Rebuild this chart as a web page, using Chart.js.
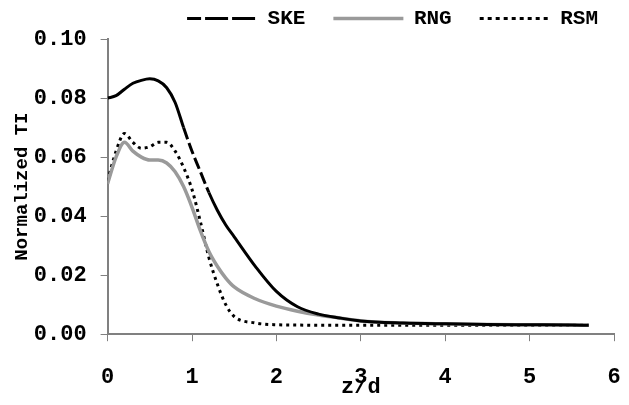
<!DOCTYPE html>
<html>
<head>
<meta charset="utf-8">
<script src="https://cdn.jsdelivr.net/npm/chart.js@4.4.1/dist/chart.umd.min.js"></script>
<style>
  html, body { margin: 0; padding: 0; background: #ffffff; }
  #wrap { width: 629px; height: 405px; }
</style>
</head>
<body>
<div id="wrap"><canvas id="tiChart"></canvas></div>
<script>
// Data (z/d vs normalized TI)
const zd = [0, 0.1, 0.2, 0.3, 0.4, 0.5, 0.6, 0.7, 0.8, 0.9, 1.0, 1.1, 1.2, 1.3, 1.4, 1.5, 1.75, 2.0, 2.25, 2.5, 2.75, 3.0, 3.5, 4.0, 4.5, 5.0, 5.5, 5.7];
const skeValues = [0.080, 0.0808, 0.083, 0.085, 0.086, 0.0865, 0.0858, 0.0835, 0.0785, 0.070, 0.062, 0.055, 0.048, 0.042, 0.037, 0.033, 0.023, 0.0145, 0.0093, 0.0068, 0.0055, 0.0045, 0.0038, 0.0035, 0.0033, 0.0032, 0.0031, 0.0030];
const rngValues = [0.051, 0.060, 0.065, 0.062, 0.060, 0.059, 0.059, 0.058, 0.055, 0.050, 0.043, 0.035, 0.028, 0.023, 0.019, 0.016, 0.012, 0.0095, 0.0078, 0.0065, 0.0055, 0.0045, 0.0038, 0.0035, 0.0033, 0.0032, 0.0031, 0.0030];
const rsmValues = [0.052, 0.062, 0.068, 0.065, 0.063, 0.0635, 0.065, 0.065, 0.062, 0.0565, 0.049, 0.038, 0.026, 0.017, 0.010, 0.006, 0.0038, 0.0032, 0.0031, 0.0030, 0.0030, 0.0030, 0.0030, 0.0030, 0.0030, 0.0030, 0.0030, 0.0030];
const seriesNames = ['SKE', 'RNG', 'RSM'];
const yTicks = [0, 0.02, 0.04, 0.06, 0.08, 0.10];

// Colors
const blackColor = '#000000',
  greyLineColor = '#9a9a9a',
  axisColor = '#808080';

const monoFont = 'Liberation Mono, Courier New, monospace';

function toPoints(values) {
  return zd.map(function (z, i) {
    return { x: z, y: values[i] };
  });
}

const tiChart = new Chart(document.getElementById('tiChart'), {
  type: 'line',
  data: {
    datasets: [
      {
        label: seriesNames[0],
        data: toPoints(skeValues),
        borderColor: blackColor,
        borderWidth: 3,
        pointRadius: 0,
        cubicInterpolationMode: 'monotone',
        // the long dash-dot only shows as broken on the steep part
        segment: {
          borderDash: function (ctx) {
            const x = ctx.p0.parsed.x;
            return x >= 0.85 && x < 1.15 ? [12, 4] : undefined;
          }
        }
      },
      {
        label: seriesNames[1],
        data: toPoints(rngValues),
        borderColor: greyLineColor,
        borderWidth: 3.5,
        pointRadius: 0,
        cubicInterpolationMode: 'monotone'
      },
      {
        label: seriesNames[2],
        data: toPoints(rsmValues),
        borderColor: blackColor,
        borderWidth: 3,
        borderDash: [3, 4],
        pointRadius: 0,
        cubicInterpolationMode: 'monotone'
      }
    ]
  },
  options: {
    responsive: true,
    maintainAspectRatio: false,
    animation: false,
    layout: {
      padding: { left: 11, right: 3, top: -20, bottom: -3 }
    },
    plugins: {
      tooltip: { enabled: false },
      legend: {
        position: 'top',
        align: 'end',
        labels: {
          color: blackColor,
          boxWidth: 70,
          boxHeight: 0,
          padding: 28,
          font: { family: monoFont, size: 21, weight: 'bold' },
          generateLabels: function (chart) {
            const dashes = [[14, 5, 3, 5], [], [3, 5]];
            return chart.data.datasets.map(function (ds, i) {
              return {
                text: ds.label,
                fillStyle: ds.borderColor,
                strokeStyle: ds.borderColor,
                lineWidth: ds.borderWidth,
                lineDash: dashes[i],
                fontColor: blackColor,
                datasetIndex: i
              };
            });
          }
        }
      }
    },
    scales: {
      x: {
        type: 'linear',
        min: 0,
        max: 6,
        // keep the plot close to the right edge despite the tick padding
        afterFit: function (scale) {
          scale.paddingRight = 15;
        },
        grid: {
          display: true,
          drawOnChartArea: false,
          drawTicks: true,
          tickLength: 7,
          color: axisColor
        },
        border: { display: true, color: axisColor, width: 2 },
        ticks: {
          stepSize: 1,
          padding: 23,
          color: blackColor,
          font: { family: monoFont, size: 22, weight: 'bold' }
        },
        title: {
          display: true,
          text: 'z/d',
          color: blackColor,
          padding: { top: -39, bottom: 7 },
          font: { family: monoFont, size: 22, weight: 'bold' }
        }
      },
      y: {
        min: 0,
        max: 0.1,
        afterBuildTicks: function (axis) {
          axis.ticks = yTicks.map(function (v) { return { value: v }; });
        },
        grid: {
          display: true,
          drawOnChartArea: false,
          drawTicks: true,
          tickLength: 7,
          color: axisColor
        },
        border: { display: true, color: axisColor, width: 2 },
        ticks: {
          padding: 14,
          color: blackColor,
          font: { family: monoFont, size: 22, weight: 'bold' },
          callback: function (value) {
            return Number(value).toFixed(2);
          }
        },
        title: {
          display: true,
          text: 'Normalized TI',
          color: blackColor,
          padding: { top: 0, bottom: -14 },
          font: { family: monoFont, size: 19, weight: 'bold' }
        }
      }
    }
  }
});
</script>
</body>
</html>
